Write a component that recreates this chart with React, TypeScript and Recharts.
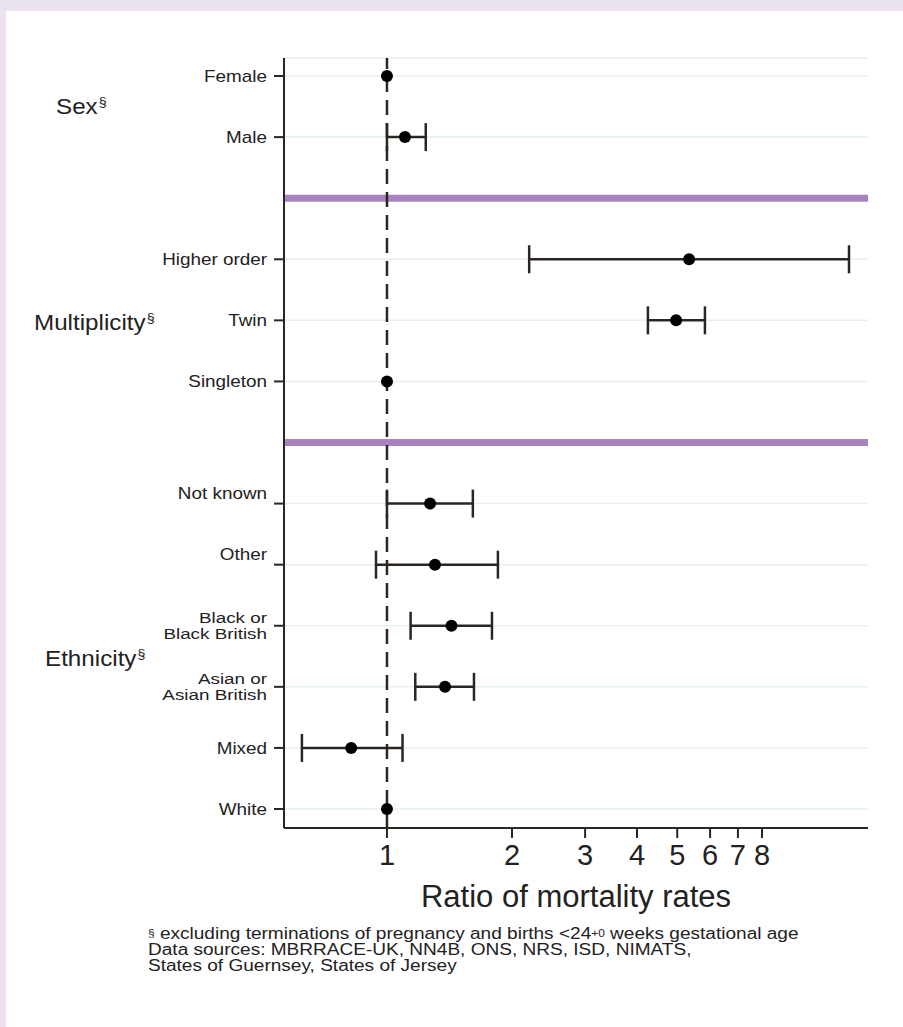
import React from "react"
import {
  ScatterChart,
  Scatter,
  XAxis,
  YAxis,
  CartesianGrid,
  ReferenceLine,
  ErrorBar,
} from "recharts"

// rows top to bottom; row 2 and 6 hold the purple separators
const categories = [
  "Female",
  "Male",
  "Higher order",
  "Twin",
  "Singleton",
  "Not known",
  "Other",
  "Black or Black British",
  "Asian or Asian British",
  "Mixed",
  "White",
]
const rowIndex = [0, 1, 3, 4, 5, 7, 8, 9, 10, 11, 12]
const ratio = [1, 1.105, 5.34, 4.97, 1, 1.27, 1.305, 1.43, 1.38, 0.82, 1]
const ciLow = [null, 1.0, 2.2, 4.25, null, 1.0, 0.941, 1.14, 1.17, 0.624, null]
const ciHigh = [null, 1.24, 12.96, 5.83, null, 1.61, 1.85, 1.79, 1.62, 1.09, null]
const separatorRows = [2, 6]
const xTicks = [1, 2, 3, 4, 5, 6, 7, 8]
const groupNames = ["Sex", "Multiplicity", "Ethnicity"]

const labelLines: Record<string, string[]> = {
  "Black or Black British": ["Black or", "Black British"],
  "Asian or Asian British": ["Asian or", "Asian British"],
}
// labels that sit above their tick
const raised = ["Not known", "Other"]

const refPoints = categories
  .map((c, i) => ({ name: c, row: rowIndex[i], ratio: ratio[i], lo: ciLow[i] }))
  .filter((d) => d.lo === null)

const estPoints = categories
  .map((c, i) => ({
    name: c,
    row: rowIndex[i],
    ratio: ratio[i],
    err: [ratio[i] - (ciLow[i] ?? ratio[i]), (ciHigh[i] ?? ratio[i]) - ratio[i]],
    lo: ciLow[i],
  }))
  .filter((d) => d.lo !== null)

const FONT = "'Liberation Sans', Arial, Helvetica, sans-serif"
const INK = "#2b2622"

function RowTick({ x, y, payload }: any) {
  const i = rowIndex.indexOf(payload.value)
  if (i < 0) return null
  const name = categories[i]
  const lines = labelLines[name] ?? [name]
  const two = lines.length === 2
  let startY = y + 6
  if (two) startY = y - 3
  if (raised.includes(name)) startY = y - 5
  // the source font runs a little wide, so stretch horizontally around the anchor
  return (
    <text
      x={x}
      y={startY}
      textAnchor="end"
      fontSize={two ? 14.5 : 16}
      fontFamily={FONT}
      fill="#222"
      transform={`translate(${x} 0) scale(${two ? 1.3 : 1.18} 1) translate(${-x} 0)`}
    >
      {lines.map((l, k) => (
        <tspan key={k} x={x} dy={k === 0 ? 0 : 16.5}>
          {l}
        </tspan>
      ))}
    </text>
  )
}

function Dot(props: any) {
  const { cx, cy } = props
  return <circle cx={cx} cy={cy} r={6} fill="#000" />
}

const groupPos = [
  { left: 56, top: 94 },
  { left: 34, top: 310 },
  { left: 45, top: 646 },
]

export default function App() {
  return (
    <div
      style={{
        position: "absolute",
        left: 0,
        top: 0,
        width: 903,
        height: 1027,
        background: "#ebe3f0",
        overflow: "hidden",
      }}
    >
      <div
        style={{
          position: "absolute",
          left: 6,
          top: 11,
          right: 0,
          bottom: 0,
          background: "#fff",
        }}
      />
      <div style={{ position: "absolute", left: 0, top: 0 }}>
        <ScatterChart
          width={903}
          height={1027}
          margin={{ top: 58, right: 35, bottom: 99, left: 84 }}
        >
          <CartesianGrid vertical={false} stroke="#e6eff1" strokeWidth={1.5} />
          <XAxis
            type="number"
            dataKey="ratio"
            scale="log"
            domain={[0.565, 14.4]}
            allowDataOverflow
            ticks={xTicks}
            height={100}
            tickSize={10}
            tickMargin={6}
            axisLine={{ stroke: INK, strokeWidth: 2 }}
            tickLine={{ stroke: INK, strokeWidth: 2 }}
            tick={{ fill: "#222", fontSize: 29, fontFamily: FONT }}
          />
          <YAxis
            type="number"
            dataKey="row"
            reversed
            domain={[-0.295, 12.311]}
            allowDataOverflow
            ticks={rowIndex}
            width={200}
            tickSize={10}
            tickMargin={7}
            axisLine={{ stroke: INK, strokeWidth: 2 }}
            tickLine={{ stroke: INK, strokeWidth: 2 }}
            tick={<RowTick />}
          />
          {separatorRows.map((r) => (
            <ReferenceLine key={r} y={r} stroke="#a882c1" strokeWidth={7} />
          ))}
          <ReferenceLine x={1} stroke={INK} strokeWidth={2.5} strokeDasharray="15 8" />
          <Scatter data={refPoints} shape={<Dot />} isAnimationActive={false} />
          <Scatter data={estPoints} shape={<Dot />} isAnimationActive={false}>
            <ErrorBar
              dataKey="err"
              direction="x"
              width={14}
              stroke={INK}
              strokeWidth={2.5}
              isAnimationActive={false}
            />
          </Scatter>
        </ScatterChart>
      </div>
      {groupNames.map((g, i) => (
        <div
          key={g}
          style={{
            position: "absolute",
            left: groupPos[i].left,
            top: groupPos[i].top,
            fontFamily: FONT,
            fontSize: 22,
            color: "#222",
            whiteSpace: "nowrap",
            transform: "scaleX(1.1)",
            transformOrigin: "left top",
          }}
        >
          {g}
          <sup style={{ fontSize: 13, verticalAlign: "top", marginLeft: 1 }}>§</sup>
        </div>
      ))}
      <div
        style={{
          position: "absolute",
          left: 284,
          width: 584,
          top: 879,
          textAlign: "center",
          fontFamily: FONT,
          fontSize: 31,
          color: "#222",
        }}
      >
        Ratio of mortality rates
      </div>
      <div
        style={{
          position: "absolute",
          left: 148,
          top: 926,
          fontFamily: FONT,
          fontSize: 16,
          lineHeight: "16px",
          color: "#222",
          whiteSpace: "nowrap",
          transform: "scaleX(1.19)",
          transformOrigin: "left top",
        }}
      >
        <div>
          <sup style={{ fontSize: 10, verticalAlign: "top" }}>§</sup> excluding terminations of
          pregnancy and births &lt;24<sup style={{ fontSize: 10, verticalAlign: "top" }}>+0</sup>{" "}
          weeks gestational age
        </div>
        <div>Data sources: MBRRACE-UK, NN4B, ONS, NRS, ISD, NIMATS,</div>
        <div>States of Guernsey, States of Jersey</div>
      </div>
    </div>
  )
}
